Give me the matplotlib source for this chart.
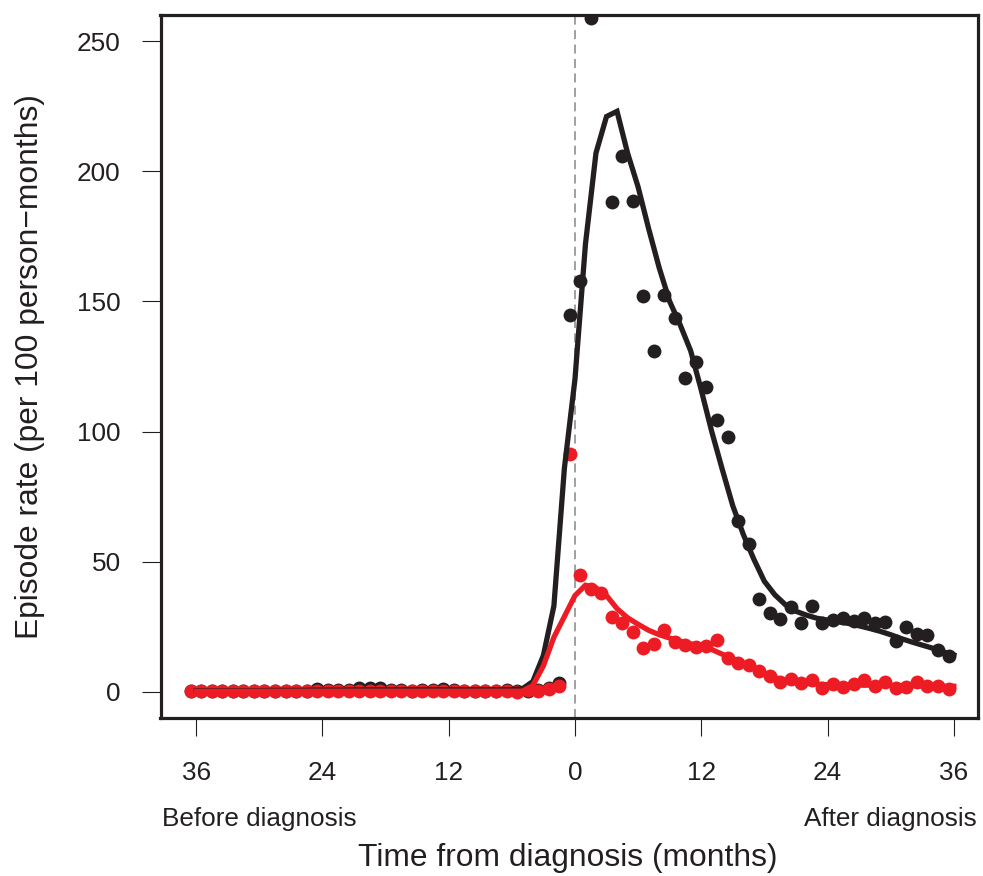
import numpy as np
import matplotlib
matplotlib.use("Agg")
import matplotlib.pyplot as plt

plt.rcParams['font.family'] = ['Liberation Sans', 'DejaVu Sans']

# point estimates at mid-month, -36.5 ... 35.5
pt_months = np.arange(-36.5, 36, 1.0)
black_pts = [0.3, 0.3, 0.3, 0.4, 0.3, 0.4, 0.3, 0.3, 0.3, 0.4, 0.4, 0.5,
             1.0, 0.6, 0.6, 0.8, 1.5, 1.6, 1.5, 0.8, 0.6, 0.5, 0.6, 0.6,
             1.0, 0.6, 0.5, 0.4, 0.5, 0.4, 0.6, 0.5, 0.4, 0.6, 1.6, 3.5,
             144.6, 158, 259, 275, 188, 206, 188.4, 152.2, 131, 152.6, 143.8, 120.5,
             126.6, 117, 104.4, 98, 65.5, 57, 35.6, 30.3, 28, 32.6, 26.6, 33,
             26.6, 27.7, 28.4, 27.1, 28.3, 26.5, 27, 19.5, 25, 22.4, 21.8, 16, 14]
red_pts = [0.2, 0.2, 0.2, 0.2, 0.2, 0.2, 0.2, 0.2, 0.2, 0.2, 0.2, 0.2,
           0.2, 0.2, 0.2, 0.2, 0.2, 0.2, 0.2, 0.2, 0.2, 0.2, 0.2, 0.2,
           0.2, 0.2, 0.2, 0.2, 0.2, 0.2, 0.2, 0.1, 0.6, 0.4, 1.3, 2.3,
           91.4, 45, 39.5, 37.9, 28.7, 26.4, 23.1, 17, 18.5, 23.7, 19, 18.2,
           17.2, 17.5, 19.8, 13.2, 11.3, 10.2, 8.1, 6, 3.8, 4.9, 3.4, 4.5,
           1.7, 3.1, 1.9, 3.2, 4.7, 2.1, 4, 1.5, 1.9, 3.7, 2.1, 2.3, 1.2]

# fitted curves at whole months, -36 ... 36
line_months = np.arange(-36, 37)
black_fit = [0.5, 0.5, 0.5, 0.5, 0.5, 0.5, 0.5, 0.6, 0.6, 0.6, 0.6, 0.7,
             0.7, 0.7, 0.7, 0.8, 0.8, 0.8, 0.8, 0.8, 0.8, 0.8, 0.8, 0.8,
             0.8, 0.8, 0.8, 0.8, 0.8, 0.8, 0.9,
             1.2, 4, 14, 33, 86, 120, 172, 207, 221, 223, 207, 194, 178, 163,
             150, 141, 131, 116, 100, 85.5, 71.5, 60.5, 51, 42.5, 37.3, 33.5,
             31, 29.5, 28.3, 27.6, 27, 26.3, 25.4, 24.4, 23.3, 22, 20.5, 19.2,
             18, 16.8, 15.4, 14.2]
red_fit = [0.3] * 32 + [
           2.5, 10, 21, 29, 37, 41, 40, 37, 32, 28.5, 26, 23.7, 22, 20.7,
           19.5, 18.5, 17.5, 16.3, 14.5, 12.8, 11, 9, 7, 5.5, 4.5, 3.8, 3.3,
           3, 2.8, 2.7, 2.7, 2.6, 2.6, 2.5, 2.5, 2.4, 2.4, 2.3, 2.3, 2.2, 2.2]

xticks = [-36, -24, -12, 0, 12, 24, 36]
xticklabels = ['36', '24', '12', '0', '12', '24', '36']
yticks = [0, 50, 100, 150, 200, 250]

dark = '#231F20'
red = '#ED1C24'

W, H = 983, 876
fig = plt.figure(figsize=(W / 100, H / 100), dpi=100)
ax = fig.add_axes([160.5 / W, (H - 718) / H, (978 - 160.5) / W, (718 - 15) / H])

ax.axvline(0, color='#999999', lw=1.3, ls=(0, (5, 3)), zorder=1)
ax.scatter(pt_months, black_pts, s=100, color=dark, lw=0, zorder=2)
ax.scatter(pt_months, red_pts, s=100, color=red, lw=0, zorder=3)
ax.plot(line_months, black_fit, color=dark, lw=3.8, zorder=4,
        solid_joinstyle='miter')
ax.plot(line_months, red_fit, color=red, lw=3.8, zorder=5,
        solid_joinstyle='miter')

ax.set_xlim(-39.38, 38.3)
ax.set_ylim(-10, 260)
ax.set_xticks(xticks)
ax.set_xticklabels(xticklabels)
ax.set_yticks(yticks)
ax.tick_params(axis='x', length=13, width=0.8, pad=18, labelsize=18.8,
               color=dark, labelcolor=dark)
ax.tick_params(axis='y', length=13.7, width=0.8, pad=15, labelsize=18.8,
               color=dark, labelcolor=dark)
for sp in ax.spines.values():
    sp.set_linewidth(2.3)
    sp.set_color(dark)

fig.text(162 / W, 1 - 826 / H, 'Before diagnosis', fontsize=18.8,
         ha='left', va='baseline', color=dark)
fig.text(977 / W, 1 - 826 / H, 'After diagnosis', fontsize=18.8,
         ha='right', va='baseline', color=dark)
fig.text(568 / W, 1 - 866 / H, 'Time from diagnosis (months)', fontsize=22.9,
         ha='center', va='baseline', color=dark)
fig.text(30 / W, 1 - 367 / H, 'Episode rate (per 100 person\u2212months)',
         fontsize=22.9, rotation=90, ha='center', va='center', color=dark)

fig.savefig('out.png', dpi=100)
